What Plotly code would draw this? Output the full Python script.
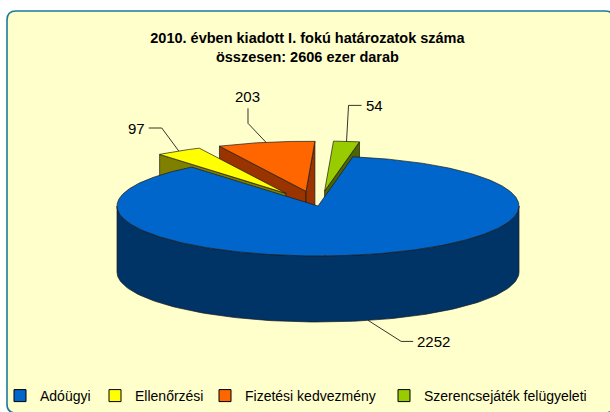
import numpy as np
import plotly.graph_objects as go

categories = ["Adóügyi", "Ellenőrzési", "Fizetési kedvezmény", "Szerencsejáték felügyeleti"]
values = [2252, 97, 203, 54]
value_labels = ["2252", "97", "203", "54"]
top_colors = ["#0066CC", "#FFFF00", "#FF6600", "#99CC00"]
side_colors = ["#003366", "#808000", "#993300", "#4D6600"]
explode = [0.0, 0.3, 0.3, 0.3]
title_text = "2010. évben kiadott I. fokú határozatok száma<br>összesen: 2606 ezer darab"

W, H = 610, 412
CX, CY, RX, RY, DEPTH = 318, 206, 201, 50, 66
START = 10.0
EDGE = "#1a1a1a"
FONT = "Liberation Sans, Arial, sans-serif"

total = sum(values)
spans = [v / total * 360.0 for v in values]
starts = START + np.concatenate([[0], np.cumsum(spans)[:-1]])


def offset(i):
    mid = np.radians(starts[i] + spans[i] / 2)
    return RX * explode[i] * np.sin(mid), -RY * explode[i] * np.cos(mid)


def pt(i, phi_deg, r=1.0, dz=0.0):
    ox, oy = offset(i)
    p = np.radians(phi_deg)
    return CX + ox + RX * r * np.sin(p), CY + oy - RY * r * np.cos(p) + dz


fig = go.Figure()


def poly(xs, ys, color):
    fig.add_trace(go.Scatter(x=list(xs) + [xs[0]], y=list(ys) + [ys[0]], mode="lines",
                             fill="toself", fillcolor=color,
                             line=dict(color=EDGE, width=0.7),
                             hoverinfo="skip", showlegend=False))


def draw_slice(i):
    a0, a1 = starts[i], starts[i] + spans[i]
    for ang, visible in ((a0, np.sin(np.radians(a0)) < 0), (a1, np.sin(np.radians(a1)) > 0)):
        if visible:
            c_top = pt(i, ang, 0)
            o_top = pt(i, ang)
            o_bot = pt(i, ang, 1, DEPTH)
            c_bot = pt(i, ang, 0, DEPTH)
            poly([c_top[0], o_top[0], o_bot[0], c_bot[0]],
                 [c_top[1], o_top[1], o_bot[1], c_bot[1]], side_colors[i])
    lo, hi = max(a0, 90.0), min(a1, 270.0)
    if hi > lo:
        phis = np.linspace(lo, hi, 120)
        tx, ty = pt(i, phis)
        bx, by = pt(i, phis[::-1], 1, DEPTH)
        poly(np.concatenate([tx, bx]), np.concatenate([ty, by]), side_colors[i])
    phis = np.linspace(a0, a1, max(8, int(spans[i] * 2)))
    ax, ay = pt(i, 0, 0)
    tx, ty = pt(i, phis)
    poly(np.concatenate([[ax], tx]), np.concatenate([[ay], ty]), top_colors[i])


order = sorted(range(len(values)), key=lambda k: -np.cos(np.radians(starts[k] + spans[k] / 2)))
for i in order:
    draw_slice(i)

# data labels with leader lines (offsets from each slice's outer mid point)
label_geom = {
    0: dict(anchor_dz=DEPTH, elbow=(33, 21), end=(45, 21), text_dx=2, xanchor="left"),
    1: dict(anchor_dz=0, elbow=(-17, -23), end=(-30, -23), text_dx=-2, xanchor="right"),
    2: dict(anchor_dz=0, elbow=(-18, -19), end=(-18, -34), text_dx=0, xanchor="center"),
    3: dict(anchor_dz=0, elbow=(2, -36), end=(15, -36), text_dx=2, xanchor="left"),
}
for i, g in label_geom.items():
    mid = starts[i] + spans[i] / 2
    axp, ayp = pt(i, mid, 1.0, g["anchor_dz"])
    ex, ey = axp + g["elbow"][0], ayp + g["elbow"][1]
    fx, fy = axp + g["end"][0], ayp + g["end"][1]
    fig.add_trace(go.Scatter(x=[axp, ex, fx], y=[ayp, ey, fy], mode="lines",
                             line=dict(color="#000000", width=0.8),
                             hoverinfo="skip", showlegend=False))
    if g["xanchor"] == "center":
        fig.add_annotation(x=fx, y=fy - 1, text=value_labels[i], showarrow=False,
                           xanchor="center", yanchor="bottom",
                           font=dict(family=FONT, size=15, color="#000"))
    else:
        fig.add_annotation(x=fx + g["text_dx"], y=fy, text=value_labels[i], showarrow=False,
                           xanchor=g["xanchor"], yanchor="middle",
                           font=dict(family=FONT, size=15, color="#000"))

# legend entries: one small legend per category, placed along the bottom
legend_text_x = [40, 135, 245, 424]
legend_keys = ["legend", "legend2", "legend3", "legend4"]
for i, name in enumerate(categories):
    fig.add_trace(go.Bar(x=[None], y=[None], name=name, legend=legend_keys[i],
                         marker=dict(color=top_colors[i], line=dict(color="#000", width=1)),
                         hoverinfo="skip"))

legend_layout = {}
for i, key in enumerate(legend_keys):
    legend_layout[key] = dict(
        orientation="h", x=(legend_text_x[i] - 40) / W, y=1 - 396 / H,
        xanchor="left", yanchor="middle", bgcolor="rgba(0,0,0,0)", borderwidth=0,
        font=dict(family=FONT, size=14, color="#000"), itemwidth=30,
        xref="paper", yref="paper")

# rounded chart-area background
x0, y0, x1, y1, r = 7, 11, 614, 413, 9
path = (f"M {x0+r},{y0} L {x1-r},{y0} Q {x1},{y0} {x1},{y0+r} L {x1},{y1-r} Q {x1},{y1} {x1-r},{y1} "
        f"L {x0+r},{y1} Q {x0},{y1} {x0},{y1-r} L {x0},{y0+r} Q {x0},{y0} {x0+r},{y0} Z")
fig.add_shape(type="path", path=path, xref="x", yref="y", layer="below",
              fillcolor="#FFFFCC", line=dict(color="#1C7A9C", width=1.6))

fig.update_layout(
    width=W, height=H,
    margin=dict(l=0, r=0, t=0, b=0, pad=0, autoexpand=False),
    paper_bgcolor="#FFFFFF", plot_bgcolor="rgba(0,0,0,0)",
    xaxis=dict(range=[0, W], visible=False, fixedrange=True),
    yaxis=dict(range=[H, 0], visible=False, fixedrange=True),
    title=dict(text="<b>" + title_text + "</b>", x=0.504, xanchor="center",
               y=1 - 43 / H, yanchor="middle", yref="container",
               font=dict(family=FONT, size=14.5, color="#000")),
    showlegend=True,
    **legend_layout,
)

fig.write_html("out.html", config={"displayModeBar": False},
               post_script="document.body.style.margin='0';document.body.style.overflow='hidden';")
